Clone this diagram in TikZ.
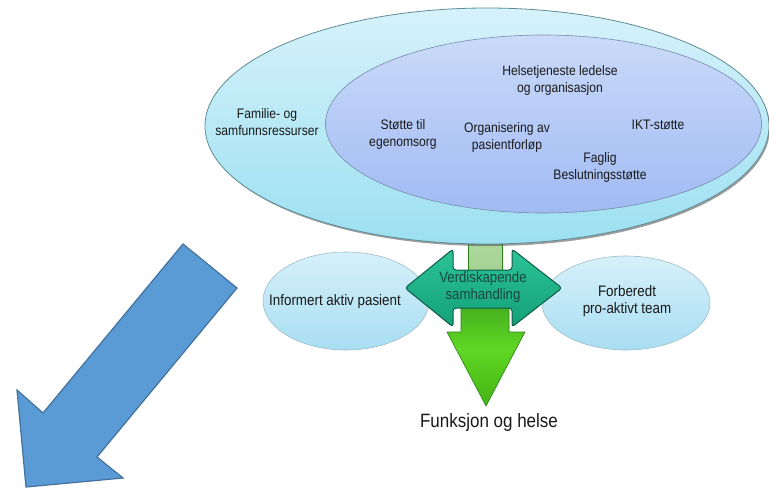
\documentclass[tikz,border=0pt]{standalone}
\usepackage{fontspec}
\setmainfont{Liberation Sans}[FakeStretch=0.88]
\usetikzlibrary{shapes.geometric}
\definecolor{outtop}{RGB}{214,242,251}
\definecolor{outbot}{RGB}{156,224,241}
\definecolor{outline}{RGB}{95,140,150}
\definecolor{intop}{RGB}{202,218,249}
\definecolor{inbot}{RGB}{160,186,243}
\definecolor{inline}{RGB}{120,140,170}
\definecolor{smtop}{RGB}{214,240,250}
\definecolor{smbot}{RGB}{168,222,242}
\definecolor{smline}{RGB}{160,190,200}
\definecolor{tealtop}{RGB}{44,196,150}
\definecolor{tealbot}{RGB}{20,160,120}
\definecolor{tealline}{RGB}{15,90,72}
\definecolor{tealtext}{RGB}{26,70,62}
\definecolor{grpale}{RGB}{180,218,166}
\definecolor{grpale2}{RGB}{160,208,140}
\definecolor{grtop}{RGB}{60,160,30}
\definecolor{grmid}{RGB}{95,215,35}
\definecolor{grbot}{RGB}{70,180,20}
\definecolor{grline}{RGB}{40,130,20}
\definecolor{bluefill}{RGB}{91,155,213}
\definecolor{blueline}{RGB}{65,113,156}
\definecolor{txt}{RGB}{25,25,25}
\tikzset{
  bigell/.style={ellipse, inner sep=0pt, top color=outtop, bottom color=outbot, draw=outline, line width=0.8pt},
  innerell/.style={ellipse, inner sep=0pt, top color=intop, bottom color=inbot, draw=inline, line width=0.6pt},
  smallell/.style={ellipse, inner sep=0pt, top color=smtop, bottom color=smbot, draw=smline, line width=0.6pt},
  toplabel/.style={align=center, text=txt, font=\fontsize{13.8}{17}\selectfont, inner sep=0pt},
  botlabel/.style={align=center, text=txt, font=\fontsize{15.2}{17}\selectfont, inner sep=0pt},
}
\begin{document}
\begin{tikzpicture}[x=1pt, y=-1pt]
\useasboundingbox (0,0) rectangle (769,488);
% blue arrow
\draw[fill=bluefill, draw=blueline, line width=1.2pt, line join=miter]
  (183,244) -- (237,288) -- (97,457) -- (123,478) -- (26,487) -- (17,390) -- (43,413) -- cycle;
% green down arrow
\draw[top color=grpale, bottom color=grpale2, draw=grline, line width=0.6pt]
  (468,222) rectangle (502,290);
\draw[top color=grtop, bottom color=grbot, middle color=grmid, draw=grline, line width=0.6pt]
  (461,290) -- (509,290) -- (509,332) -- (525,332) -- (486,406) -- (447,332) -- (461,332) -- cycle;
% outer ellipse shadow and ellipse
\fill[black!70, opacity=0.55] (488.5,128) ellipse [x radius=281.5, y radius=118];
\node[bigell, minimum width=564pt, minimum height=236pt] (outer) at (487,126) {};
\node[innerell, minimum width=436pt, minimum height=178pt] (inner) at (543.5,124) {};
% small ellipses
\node[smallell, minimum width=166pt, minimum height=98pt] (left) at (346,301) {};
\node[smallell, minimum width=168pt, minimum height=94pt] (right) at (626,303) {};
% double arrow
\draw[top color=tealtop, bottom color=tealbot, draw=tealline, line width=1pt, rounded corners=3pt]
  (405,288) -- (453,249) -- (453,270) -- (512,270) -- (512,249) -- (562,288)
  -- (512,327) -- (512,308) -- (453,308) -- (453,327) -- cycle;
% labels
\node[toplabel] (fam) at (267,122) {Familie- og\\samfunnsressurser};
\node[toplabel] (stotte) at (403,134) {Støtte til\\egenomsorg};
\node[toplabel] (org) at (507,137) {Organisering av\\pasientforløp};
\node[toplabel] (helse) at (560,80) {Helsetjeneste ledelse\\og organisasjon};
\node[toplabel] (ikt) at (658,125) {IKT-støtte};
\node[toplabel] (faglig) at (600,167) {Faglig\\Beslutningsstøtte};
\node[botlabel] (inf) at (335,302) {Informert aktiv pasient};
\node[botlabel] (forb) at (627,301) {Forberedt\\pro-aktivt team};
\node[align=center, text=tealtext, font=\fontsize{15}{17}\selectfont, inner sep=0pt] (verdi) at (483,287) {Verdiskapende\\samhandling};
\node[text=txt, font=\fontsize{19.3}{22}\selectfont, inner sep=0pt] (funk) at (489,423) {Funksjon og helse};
\end{tikzpicture}
\end{document}
